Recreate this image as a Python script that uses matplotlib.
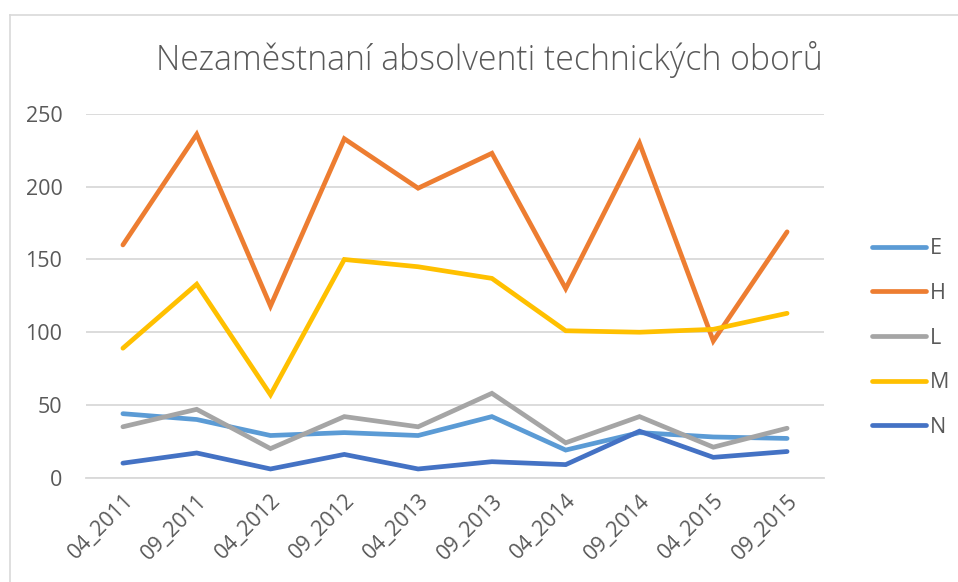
import matplotlib.pyplot as plt
from matplotlib.lines import Line2D

periods = ["04_2011", "09_2011", "04_2012", "09_2012", "04_2013",
           "09_2013", "04_2014", "09_2014", "04_2015", "09_2015"]
E = [44, 40, 29, 31, 29, 42, 19, 31, 28, 27]
H = [160, 236, 118, 233, 199, 223, 130, 230, 94, 169]
L = [35, 47, 20, 42, 35, 58, 24, 42, 21, 34]
M = [89, 133, 57, 150, 145, 137, 101, 100, 102, 113]
N = [10, 17, 6, 16, 6, 11, 9, 32, 14, 18]

series = [("E", E, "#5B9BD5"), ("H", H, "#ED7D31"), ("L", L, "#A5A5A5"),
          ("M", M, "#FFC000"), ("N", N, "#4472C4")]

txt = "#595959"
plt.rcParams["font.family"] = ["Open Sans", "DejaVu Sans"]

fig = plt.figure(figsize=(9.58, 5.82), dpi=100)
ax = fig.add_axes([86 / 958, 1 - 477.7 / 582, (824 - 86) / 958, (477.7 - 114) / 582])

x = list(range(len(periods)))
for name, vals, col in series:
    ax.plot(x, vals, color=col, lw=3.4, label=name, solid_capstyle="round",
            solid_joinstyle="miter")

ax.set_xlim(-0.5, len(periods) - 0.5)
ax.set_ylim(0, 250)
ax.set_yticks([0, 50, 100, 150, 200, 250])
ax.grid(axis="y", color="#D9D9D9", lw=1.3)
ax.set_axisbelow(True)
for s in ["top", "right", "left"]:
    ax.spines[s].set_visible(False)
ax.spines["bottom"].set_color("#D9D9D9")
ax.spines["bottom"].set_linewidth(1.3)
ax.tick_params(length=0, colors=txt, labelsize=15.5)
ax.tick_params(axis="y", pad=17)
ax.set_xticks(x)
ax.set_xticklabels(periods, rotation=45, ha="right", rotation_mode="anchor")
ax.tick_params(axis="x", pad=9)

fig.text(489 / 958, 1 - 60 / 582, "Nezaměstnaní absolventi technických oborů",
         ha="center", va="center", fontsize=24.3, color=txt, fontweight="light")

leg = fig.legend(loc="center left", bbox_to_anchor=(853 / 958, 1 - 338 / 582),
                 frameon=False, handlelength=2.5, handletextpad=0.15,
                 labelspacing=1.1, fontsize=15.5, labelcolor=txt)

# chart border (left and top edges visible in the crop)
fig.add_artist(Line2D([10 / 958, 10 / 958], [0, 1 - 15 / 582], color="#D9D9D9", lw=1.2))
fig.add_artist(Line2D([10 / 958, 1], [1 - 15 / 582, 1 - 15 / 582], color="#D9D9D9", lw=1.2))

fig.savefig("out.png", dpi=100)
